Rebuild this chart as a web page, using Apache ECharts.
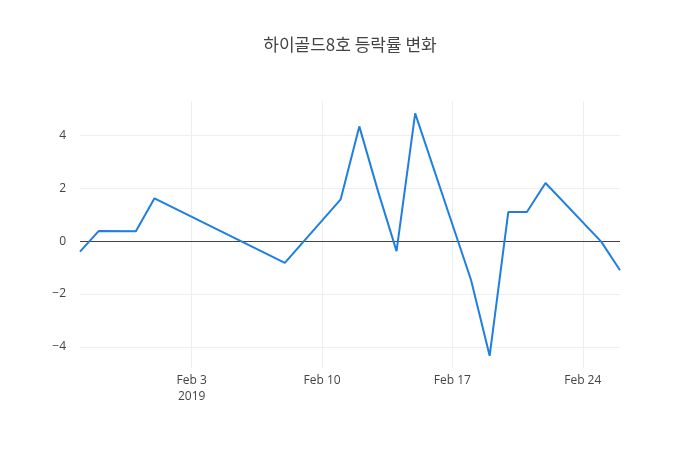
<!DOCTYPE html>
<html><head><meta charset="utf-8">
<script src="https://cdn.jsdelivr.net/npm/echarts@6/dist/echarts.min.js"></script>
<style>html,body{margin:0;padding:0;background:#fff}#c{width:700px;height:450px}</style>
</head><body><div id="c"></div>
<script>
// days relative to Feb 3, 2019
const days = [-6,-5,-3,-2,5,8,9,10,11,12,15,16,17,18,19,22,23];
const values = [-0.4,0.38,0.37,1.62,-0.82,1.58,4.34,1.9,-0.38,4.83,-1.47,-4.34,1.1,1.1,2.2,-0.03,-1.1];
const xTicks = [0,7,14,21];
const xTickLabels = ['Feb 3\n2019','Feb 10','Feb 17','Feb 24'];
const yTicks = [-4,-2,2,4];
const title = '하이골드8호 등락률 변화';

const grid = '#eeeeee';
const markData = xTicks.map(v=>({xAxis:v, lineStyle:{color:grid,width:1,type:'solid'}}))
  .concat(yTicks.map(v=>({yAxis:v, lineStyle:{color:grid,width:1,type:'solid'}})))
  .concat([{yAxis:0, lineStyle:{color:'#444',width:1,type:'solid'}}]);

const chart = echarts.init(document.getElementById('c'));
chart.setOption({
  animation:false,
  title:{text:title,left:'center',top:31,textStyle:{fontFamily:'Noto Sans CJK KR',fontSize:17,fontWeight:'normal',color:'#444'}},
  grid:{left:80,right:80,top:101,bottom:82},
  xAxis:{type:'value',min:-6,max:23,
    axisLine:{show:false},axisTick:{show:false},splitLine:{show:false},
    axisLabel:{customValues:xTicks,color:'#444',fontSize:12,fontFamily:'Open Sans',margin:5,lineHeight:16,
      formatter:v=>xTickLabels[xTicks.indexOf(v)]||''}},
  yAxis:{type:'value',min:-4.8,max:5.3,
    axisLine:{show:false},axisTick:{show:false},splitLine:{show:false},
    axisLabel:{customValues:[-4,-2,0,2,4],color:'#444',fontSize:12,fontFamily:'Open Sans',margin:14,
      formatter:v=>String(v).replace('-','\u2212')}},
  series:[{type:'line',data:days.map((d,i)=>[d,values[i]]),showSymbol:false,
    lineStyle:{color:'#1f7fe0',width:2},z:3,
    markLine:{silent:true,symbol:'none',label:{show:false},data:markData,z:1}}]
});
</script></body></html>
